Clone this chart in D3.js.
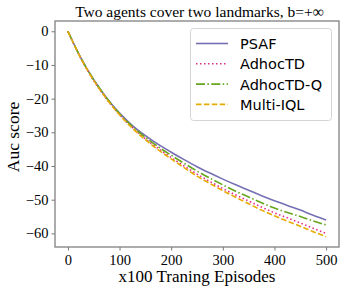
<!DOCTYPE html>
<html>
<head>
<meta charset="utf-8">
<script src="https://cdn.jsdelivr.net/npm/d3@7"></script>
<style>
  body { margin: 0; background: #fff; }
  svg { display: block; }
</style>
</head>
<body>
<div id="chart"></div>
<script>
// episodes (x100)
var episodes = [0, 25, 50, 75, 100, 125, 150, 175, 200, 225, 250, 275, 300, 325, 350, 375, 400, 425, 450, 475, 500];

var psaf      = [0, -7.9, -14.4, -19.8, -24.3, -28.0, -31.0, -33.6, -35.9, -38.1, -40.2, -42.1, -43.9, -45.6, -47.2, -48.8, -50.3, -51.7, -53.1, -54.6, -56.0];
var adhocTD   = [0, -8.0, -14.6, -20.1, -24.7, -28.6, -31.9, -34.8, -37.5, -40.0, -42.4, -44.6, -46.7, -48.6, -50.4, -52.2, -53.9, -55.4, -56.9, -58.5, -60.0];
var adhocTDQ  = [0, -7.9, -14.4, -19.8, -24.5, -28.3, -31.5, -34.3, -36.8, -39.2, -41.5, -43.6, -45.6, -47.5, -49.2, -50.9, -52.5, -53.8, -55.0, -56.3, -57.5];
var multiIQL  = [0, -8.0, -14.6, -20.1, -24.8, -28.8, -32.2, -35.2, -37.9, -40.5, -43.0, -45.2, -47.3, -49.3, -51.2, -53.1, -54.8, -56.4, -57.9, -59.5, -61.0];

var seriesNames = ["PSAF", "AdhocTD", "AdhocTD-Q", "Multi-IQL"];
var xTicks = [0, 100, 200, 300, 400, 500];
var yTicks = [0, -10, -20, -30, -40, -50, -60];

var W = 346, H = 291;
var plotL = 55, plotR = 339, plotT = 21, plotB = 247;

var series = [
	{name: seriesNames[0], values: psaf,     color: "#7570b3", dash: null},
	{name: seriesNames[1], values: adhocTD,  color: "#e7298a", dash: "1.5,2.5"},
	{name: seriesNames[2], values: adhocTDQ, color: "#66a61e", dash: "9,2.4,1.5,2.4"},
	{name: seriesNames[3], values: multiIQL, color: "#e6ab02", dash: "5.5,2.4"}
];

var svg = d3.select("#chart").append("svg")
	.attr("width", W)
	.attr("height", H);

var x = d3.scaleLinear().domain([-25, 525]).range([plotL, plotR]);
var y = d3.scaleLinear().domain([-64.05, 3.05]).range([plotB, plotT]);

var fmt = function(d){ return d < 0 ? "\u2212" + Math.abs(d) : "" + d; };

// curves
var line = d3.line()
	.x(function(d){ return x(d[0]); })
	.y(function(d){ return y(d[1]); })
	.curve(d3.curveMonotoneX);

var g = svg.append("g");
series.forEach(function(s){
	var pts = episodes.map(function(e, i){ return [e, s.values[i]]; });
	g.append("path")
		.datum(pts)
		.attr("d", line)
		.attr("fill", "none")
		.attr("stroke", s.color)
		.attr("stroke-width", 1.6)
		.attr("stroke-dasharray", s.dash);
});

// axes
var xAxis = svg.append("g")
	.attr("transform", "translate(0," + plotB + ")")
	.call(d3.axisBottom(x).tickValues(xTicks).tickSize(3.5).tickSizeOuter(0).tickPadding(4).tickFormat(fmt));
var yAxis = svg.append("g")
	.attr("transform", "translate(" + plotL + ",0)")
	.call(d3.axisLeft(y).tickValues(yTicks).tickSize(3.5).tickSizeOuter(0).tickPadding(3).tickFormat(fmt));

[xAxis, yAxis].forEach(function(a){
	a.select(".domain").remove();
	a.selectAll("line").attr("stroke", "#777").attr("stroke-width", 1);
	a.selectAll("text")
		.attr("fill", "#000")
		.style("font-family", "'Liberation Serif', serif")
		.style("font-size", "14.5px");
});

// frame
svg.append("rect")
	.attr("x", plotL).attr("y", plotT)
	.attr("width", plotR - plotL).attr("height", plotB - plotT)
	.attr("fill", "none")
	.attr("stroke", "#808080")
	.attr("stroke-width", 1.3);

// title and axis labels
svg.append("text")
	.attr("x", 199.5).attr("y", 17)
	.attr("text-anchor", "middle")
	.style("font-family", "'Liberation Serif', serif")
	.style("font-size", "15.5px")
	.text("Two agents cover two landmarks, b=+\u221e");

svg.append("text")
	.attr("x", 197).attr("y", 282)
	.attr("text-anchor", "middle")
	.style("font-family", "'Liberation Serif', serif")
	.style("font-size", "17px")
	.text("x100 Traning Episodes");

svg.append("text")
	.attr("transform", "translate(19,137) rotate(-90)")
	.attr("text-anchor", "middle")
	.style("font-family", "'Liberation Serif', serif")
	.style("font-size", "17.5px")
	.text("Auc score");

// legend
var leg = svg.append("g");
leg.append("rect")
	.attr("x", 190.5).attr("y", 28.5)
	.attr("width", 141).attr("height", 92)
	.attr("rx", 3)
	.attr("fill", "#fff").attr("fill-opacity", 0.8)
	.attr("stroke", "#d5d5d5").attr("stroke-width", 1);

series.forEach(function(s, i){
	var by = 49 + i * 20.3;
	leg.append("line")
		.attr("x1", 196).attr("x2", 228)
		.attr("y1", by - 5.5).attr("y2", by - 5.5)
		.attr("stroke", s.color)
		.attr("stroke-width", 1.6)
		.attr("stroke-dasharray", s.dash);
	leg.append("text")
		.attr("x", 240).attr("y", by)
		.style("font-family", "'DejaVu Sans', sans-serif")
		.style("font-size", "14.5px")
		.text(s.name);
});
</script>
</body>
</html>
